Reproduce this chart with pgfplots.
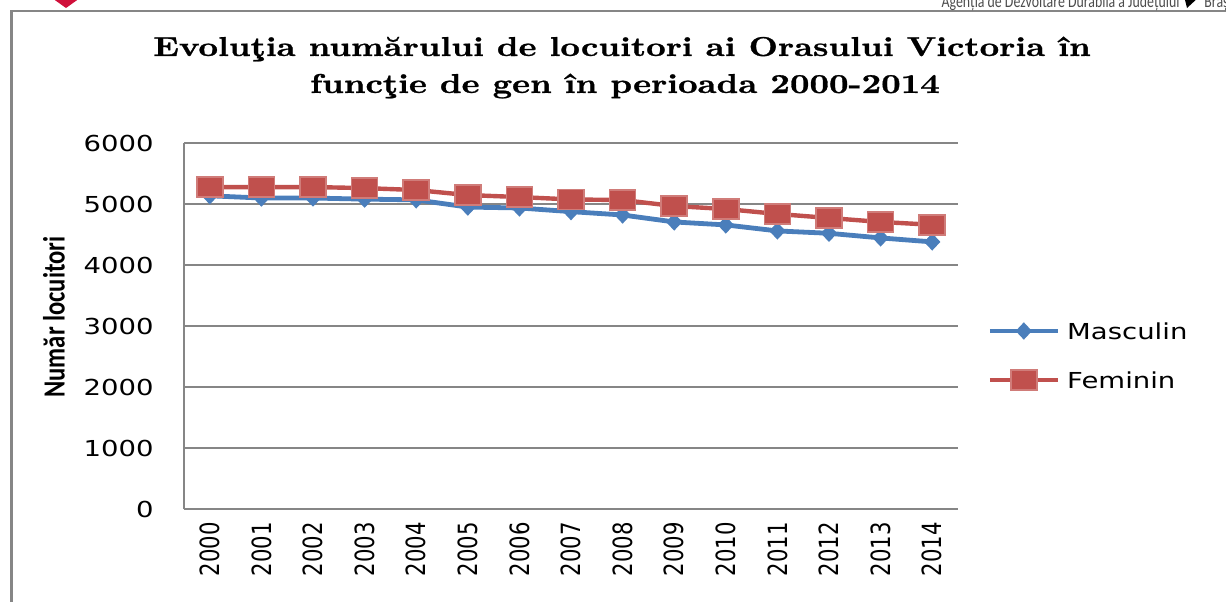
\documentclass[border=0pt]{standalone}
\usepackage{fontspec}
\usepackage{pgfplots}
\pgfplotsset{compat=1.18}
\newfontfamily\tickfont[FakeStretch=1.25]{DejaVu Sans}
\newfontfamily\tickfontn{DejaVu Sans}
\newfontfamily\labfont{Carlito}
\newfontfamily\titlefont[FakeBold=0.9]{lmroman10-bold.otf}
\definecolor{mblue}{HTML}{4A7EBB}
\definecolor{fred}{HTML}{C0504D}
\definecolor{gridc}{HTML}{868686}
\definecolor{logored}{HTML}{D0103A}
\begin{document}
\begin{tikzpicture}
\begin{scope}[x=0.5pt,y=-0.5pt]
  \useasboundingbox (0,0) rectangle (1226,601);
  \coordinate (AX) at (184,509);
  % frame
  \draw[gridc, line width=1.3pt] (11,11) -- (1240,11);
  \draw[gridc, line width=1.5pt] (11,10.3) -- (11,620);
  % header
  \fill[logored] (52,-2) -- (80,-2) -- (66,8) -- cycle;
  \node[anchor=base east, inner sep=0pt, text=black!70, font=\labfont\fontsize{9}{10}\selectfont] at (1180,7) {\scalebox{0.77}[1]{Agenția de Dezvoltare Durabilă a Județului}};
  \fill[black] (1184,-4) -- (1200,-4) -- (1187,8) -- cycle;
  \node[anchor=base west, inner sep=0pt, text=black!70, font=\labfont\fontsize{9}{10}\selectfont] at (1204,7) {\scalebox{0.77}[1]{Brașov}};
  % title
  \node[inner sep=0pt, font=\titlefont\fontsize{13.6}{16}\selectfont] at (622,49) {\scalebox{1.25}[1]{Evoluţia numărului de locuitori ai Orasului Victoria în}};
  \node[inner sep=0pt, font=\titlefont\fontsize{13.6}{16}\selectfont] at (625,86) {\scalebox{1.25}[1]{funcţie de gen în perioada 2000-2014}};
  % y label
  \node[inner sep=0pt, rotate=90, font=\labfont\fontsize{12.3}{14}\selectfont\bfseries] at (54,317) {\scalebox{1}[1.25]{Număr locuitori}};
\end{scope}
\begin{axis}[
  at={(AX)}, anchor=south west, scale only axis,
  width=387pt, height=183pt,
  xmin=1999.5, xmax=2014.5, ymin=0, ymax=6000,
  ytick={0,1000,2000,3000,4000,5000,6000},
  xtick={2000,2001,2002,2003,2004,2005,2006,2007,2008,2009,2010,2011,2012,2013,2014},
  xticklabel={\scalebox{1}[1.25]{\pgfmathprintnumber{\tick}}},
  /pgf/number format/1000 sep={},
  /pgf/number format/assume math mode=true,
  ymajorgrids, grid style={gridc, line width=0.75pt},
  axis x line*=bottom, axis y line*=left,
  axis line style={gridc, line width=0.8pt, -},
  x axis line style={line width=1.1pt},
  major tick length=0pt,
  yticklabel style={font=\tickfont\fontsize{11}{12}\selectfont, inner sep=0pt, anchor=east, xshift=-15pt},
  xticklabel style={font=\tickfontn\fontsize{10.6}{12}\selectfont, rotate=90, anchor=east, inner sep=0pt, xshift=-6.5pt},
  legend style={at={(1.0375,0.4167)}, anchor=west, draw=none, fill=none, inner sep=0pt,
    font=\tickfont\fontsize{11}{13}\selectfont, row sep=15.5pt,
    nodes={inner sep=0pt, text height=8pt, text depth=0pt},
    /tikz/every odd column/.append style={column sep=3.5pt}},
  legend cell align=left,
  legend image code/.code={\draw[mark repeat=2, mark phase=2, #1] plot coordinates {(0pt,0pt) (17pt,0pt) (34pt,0pt)};},
]
\addplot[mblue, line width=2.4pt, mark=diamond*, mark size=2.6pt, mark options={xscale=1.25, solid, fill=mblue, draw=mblue}] coordinates {
(2000,5135) (2001,5098) (2002,5098) (2003,5080) (2004,5068) (2005,4950) (2006,4935) (2007,4875) (2008,4820) (2009,4706) (2010,4657) (2011,4559) (2012,4520) (2013,4444) (2014,4379)};
\addlegendentry{Masculin}
\addplot[fred, line width=2.2pt, mark=square*, mark size=5pt, mark options={xscale=1.3, solid, fill=fred, draw=fred!75!white, line width=0.8pt}] coordinates {
(2000,5278) (2001,5278) (2002,5278) (2003,5261) (2004,5229) (2005,5147) (2006,5114) (2007,5075) (2008,5065) (2009,4967) (2010,4918) (2011,4837) (2012,4771) (2013,4706) (2014,4660)};
\addlegendentry{Feminin}
\end{axis}
\end{tikzpicture}
\end{document}
